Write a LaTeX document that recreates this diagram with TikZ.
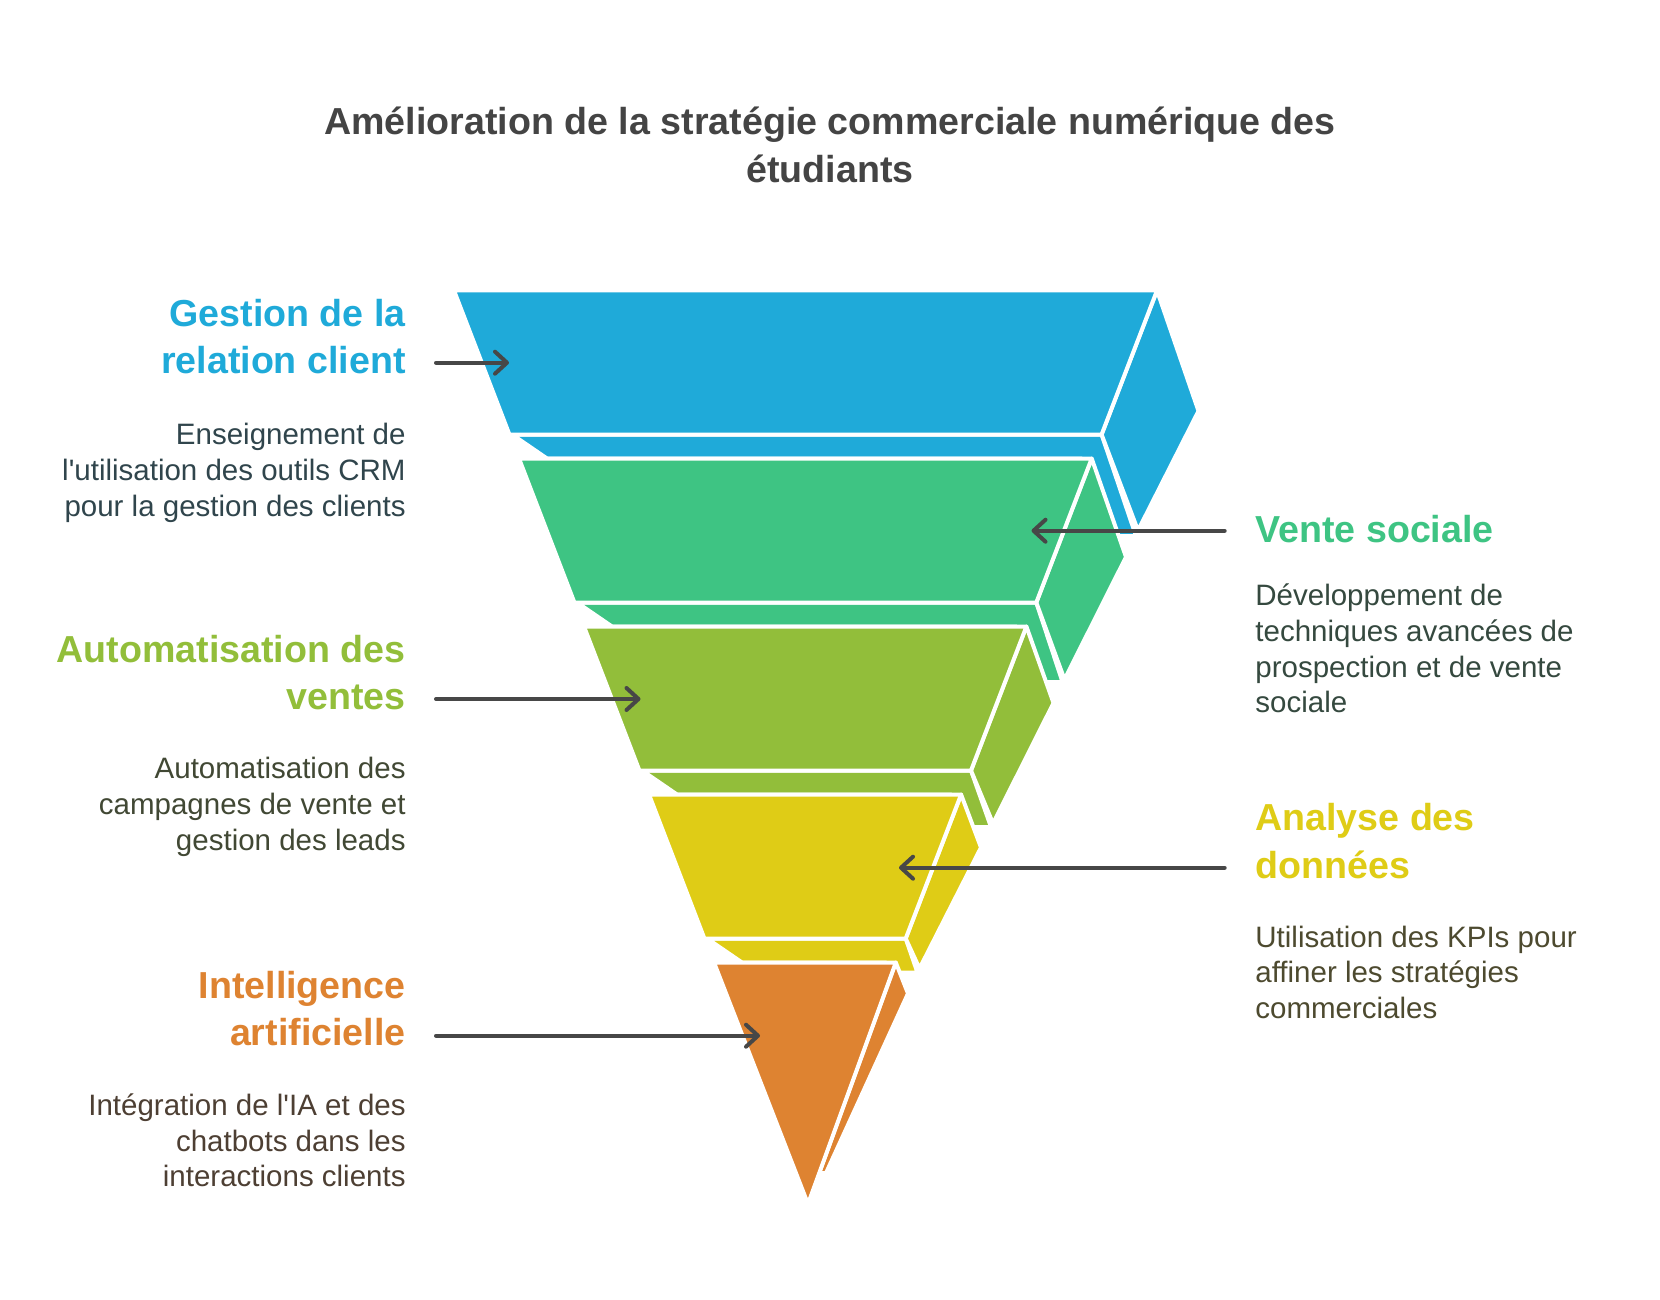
\documentclass[tikz,border=0pt]{standalone}
\usepackage{fontspec}
\setmainfont{Liberation Sans}
\usetikzlibrary{arrows.meta}

\definecolor{crmblue}{HTML}{1FAAD9}
\definecolor{socialgreen}{HTML}{3EC483}
\definecolor{salesolive}{HTML}{92BE3A}
\definecolor{datayellow}{HTML}{DFCC16}
\definecolor{aiorange}{HTML}{DE8331}
\definecolor{ink}{HTML}{333333}
\definecolor{titlegray}{HTML}{444444}
\definecolor{arrowgray}{HTML}{474747}
\colorlet{crmtext}{crmblue!15!ink}
\colorlet{socialtext}{socialgreen!15!ink}
\colorlet{salestext}{salesolive!15!ink}
\colorlet{datatext}{datayellow!15!ink}
\colorlet{aitext}{aiorange!15!ink}

\begin{document}
\begin{tikzpicture}[x=0.5pt, y=-0.5pt, >={Straight Barb[length=6pt, width=11pt, round]},
  face/.style={draw=white, line width=2pt, line join=round},
  heading/.style={font=\fontsize{18.8}{23.75}\selectfont\bfseries, inner sep=0pt},
  body/.style={font=\fontsize{14.75}{17.85}\selectfont, inner sep=0pt},
  pointer/.style={->, draw=arrowgray, line width=2pt, line cap=round}]
  \fill [white] (0,0) rectangle (1660,1300);

  % funnel, top layer first
  \draw [face, fill=crmblue] (512,434.5) -- (1101.6,434.5) -- (1136,536) -- (1113,536) -- (1081.7,458.5) -- (547,458.5) -- cycle;
  \draw [face, fill=crmblue] (1157,290.5) -- (1198.5,411) -- (1138,530.5) -- (1101.6,434.5) -- cycle;
  \draw [face, fill=crmblue] (454,290.5) -- (1157,290.5) -- (1101.6,434.5) -- (509.4,434.5) -- cycle;

  \draw [face, fill=socialgreen] (577,602.5) -- (1036.3,602.5) -- (1062.5,682) -- (1039.5,682) -- (1016.4,626.5) -- (612,626.5) -- cycle;
  \draw [face, fill=socialgreen] (1091.7,458.5) -- (1126,557) -- (1064.5,679.5) -- (1036.3,602.5) -- cycle;
  \draw [face, fill=socialgreen] (519,458.5) -- (1091.7,458.5) -- (1036.3,602.5) -- (574.4,602.5) -- cycle;

  \draw [face, fill=salesolive] (642,770.5) -- (971,770.5) -- (991,827) -- (968,827) -- (951.1,794.5) -- (677,794.5) -- cycle;
  \draw [face, fill=salesolive] (1026.4,626.5) -- (1053.5,703) -- (993,823.5) -- (971,770.5) -- cycle;
  \draw [face, fill=salesolive] (584,626.5) -- (1026.4,626.5) -- (971,770.5) -- (639.4,770.5) -- cycle;

  \draw [face, fill=datayellow] (707,938.5) -- (905.7,938.5) -- (917.5,972.7) -- (894.5,972.7) -- (885.8,962.5) -- (742,962.5) -- cycle;
  \draw [face, fill=datayellow] (961.1,794.5) -- (981,847.5) -- (919.5,968.5) -- (905.7,938.5) -- cycle;
  \draw [face, fill=datayellow] (649,794.5) -- (961.1,794.5) -- (905.7,938.5) -- (704.4,938.5) -- cycle;

  \draw [face, fill=aiorange] (895.8,962.5) -- (908,993.5) -- (826,1173) -- (819,1173) -- cycle;
  \draw [face, fill=aiorange] (714,962.5) -- (895.8,962.5) -- (808,1204) -- cycle;

  % title
  \node (title) at (830,107) [heading, anchor=north, align=center, text=titlegray] {Amélioration de la stratégie commerciale numérique des\\étudiants};

  % left column
  \node (crmhead) at (406,298.8) [heading, anchor=north east, align=right, text=crmblue] {Gestion de la\\relation client};
  \node (crmbody) at (406,422.9) [body, anchor=north east, align=right, text=crmtext] {Enseignement de\\l\textquotesingle utilisation des outils CRM\\pour la gestion des clients};
  \node (saleshead) at (406,634.8) [heading, anchor=north east, align=right, text=salesolive] {Automatisation des\\ventes};
  \node (salesbody) at (406,757.1) [body, anchor=north east, align=right, text=salestext] {Automatisation des\\campagnes de vente et\\gestion des leads};
  \node (aihead) at (406,970.4) [heading, anchor=north east, align=right, text=aiorange] {Intelligence\\artificielle};
  \node (aibody) at (406,1093.3) [body, anchor=north east, align=right, text=aitext] {Intégration de l\textquotesingle IA et des\\chatbots dans les\\interactions clients};

  % right column
  \node (socialhead) at (1255,514.5) [heading, anchor=north west, align=left, text=socialgreen] {Vente sociale};
  \node (socialbody) at (1255,583.5) [body, anchor=north west, align=left, text=socialtext] {Développement de\\techniques avancées de\\prospection et de vente\\sociale};
  \node (datahead) at (1255,803.2) [heading, anchor=north west, align=left, text=datayellow] {Analyse des\\données};
  \node (databody) at (1255,925.4) [body, anchor=north west, align=left, text=datatext] {Utilisation des KPIs pour\\affiner les stratégies\\commerciales};

  % pointers
  \coordinate (crm-from) at (436,362.7);
  \coordinate (crm-to) at (509,362.7);
  \coordinate (social-from) at (1224.7,530.7);
  \coordinate (social-to) at (1031.5,530.7);
  \coordinate (sales-from) at (436,699);
  \coordinate (sales-to) at (640.5,699);
  \coordinate (data-from) at (1224.7,867.7);
  \coordinate (data-to) at (899,867.7);
  \coordinate (ai-from) at (436,1035.7);
  \coordinate (ai-to) at (760,1035.7);
  \draw [pointer] (crm-from) -- (crm-to);
  \draw [pointer] (social-from) -- (social-to);
  \draw [pointer] (sales-from) -- (sales-to);
  \draw [pointer] (data-from) -- (data-to);
  \draw [pointer] (ai-from) -- (ai-to);
\end{tikzpicture}
\end{document}
